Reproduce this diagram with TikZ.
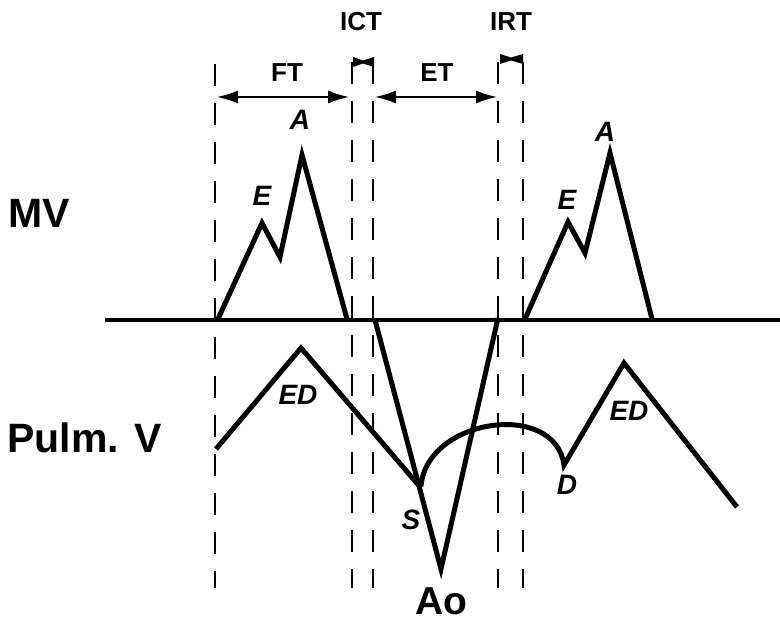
\documentclass[tikz,border=0pt]{standalone}
\usepackage{fontspec}
\setmainfont{Liberation Sans}
\usetikzlibrary{arrows.meta}
\begin{document}
\begin{tikzpicture}[x=1pt,y=-1pt,
  wave/.style={line width=5pt,line join=miter,line cap=butt},
  guide/.style={line width=2.2pt,dash pattern=on 22pt off 17pt},
  big/.style={font=\fontsize{41}{44}\selectfont\bfseries},
  mid/.style={font=\fontsize{26}{28}\selectfont\bfseries},
  itl/.style={font=\fontsize{28}{30}\selectfont\bfseries\itshape},
  span/.style={line width=1.6pt,{Latex[length=21pt,width=13pt]}-{Latex[length=21pt,width=13pt]}}]
\useasboundingbox (0,0) rectangle (780,624);
% guide lines
\coordinate (g1t) at (215,64); \coordinate (g1b) at (215,588);
\coordinate (g2t) at (352,62); \coordinate (g2b) at (352,588);
\coordinate (g3t) at (373,62); \coordinate (g3b) at (373,588);
\coordinate (g4t) at (498,62); \coordinate (g4b) at (498,588);
\coordinate (g5t) at (523,62); \coordinate (g5b) at (523,588);
\draw[guide] (g1t) -- (g1b);
\draw[guide] (g2t) -- (g2b);
\draw[guide] (g3t) -- (g3b);
\draw[guide] (g4t) -- (g4b);
\draw[guide] (g5t) -- (g5b);
% interval arrows
\coordinate (ft1) at (217,97); \coordinate (ft2) at (349,97);
\coordinate (et1) at (375,97); \coordinate (et2) at (497,97);
\draw[span] (ft1) -- (ft2);
\draw[span] (et1) -- (et2);
\fill (353,57) -- (363,60.5) -- (374,57) -- (374,67) -- (363,63.5) -- (353,67) -- cycle;
\fill (500,54) -- (511,57.5) -- (523,54) -- (523,64) -- (511,60.5) -- (500,64) -- cycle;
\node[mid] (FT) at (287,73) {FT};
\node[mid] (ICT) at (361,22) {ICT};
\node[mid] (ET) at (437,73) {ET};
\node[mid] (IRT) at (511,22) {IRT};
% baseline
\coordinate (b0) at (105,320); \coordinate (b1) at (780,320);
\draw[line width=4.5pt] (b0) -- (b1);
% MV waves
\draw[wave] (218,319) -- (262,223) -- (280,257) -- (302,155) -- (347,319);
\draw[wave] (525,319) -- (568,222) -- (585,253) -- (610,153) -- (652,319);
\node[itl] (E1) at (262,196) {E};
\node[itl] (A1) at (300,120) {A};
\node[itl] (E2) at (567,200) {E};
\node[itl] (A2) at (605,132) {A};
% Pulm V
\draw[wave] (216,449) -- (301,348) -- (421,488);
\draw[wave] (421,486) .. controls (427,418) and (555,400) .. (564,465) -- (624,363) -- (737,507);
\node[itl] (ED1) at (298,395) {ED};
\node[itl] (S) at (411,520) {S};
\node[itl] (D) at (567,485) {D};
\node[itl] (ED2) at (629,411) {ED};
% Ao
\draw[wave] (375,320) -- (441,569) -- (498,318);
\node[font=\fontsize{39}{42}\selectfont\bfseries,inner sep=0pt,anchor=base] (Ao) at (441,614) {Ao};
% row labels
\node[big,anchor=west] (MV) at (5,213) {MV};
\node[big,anchor=west] (PV) at (4,438) {Pulm. V};
\end{tikzpicture}
\end{document}
